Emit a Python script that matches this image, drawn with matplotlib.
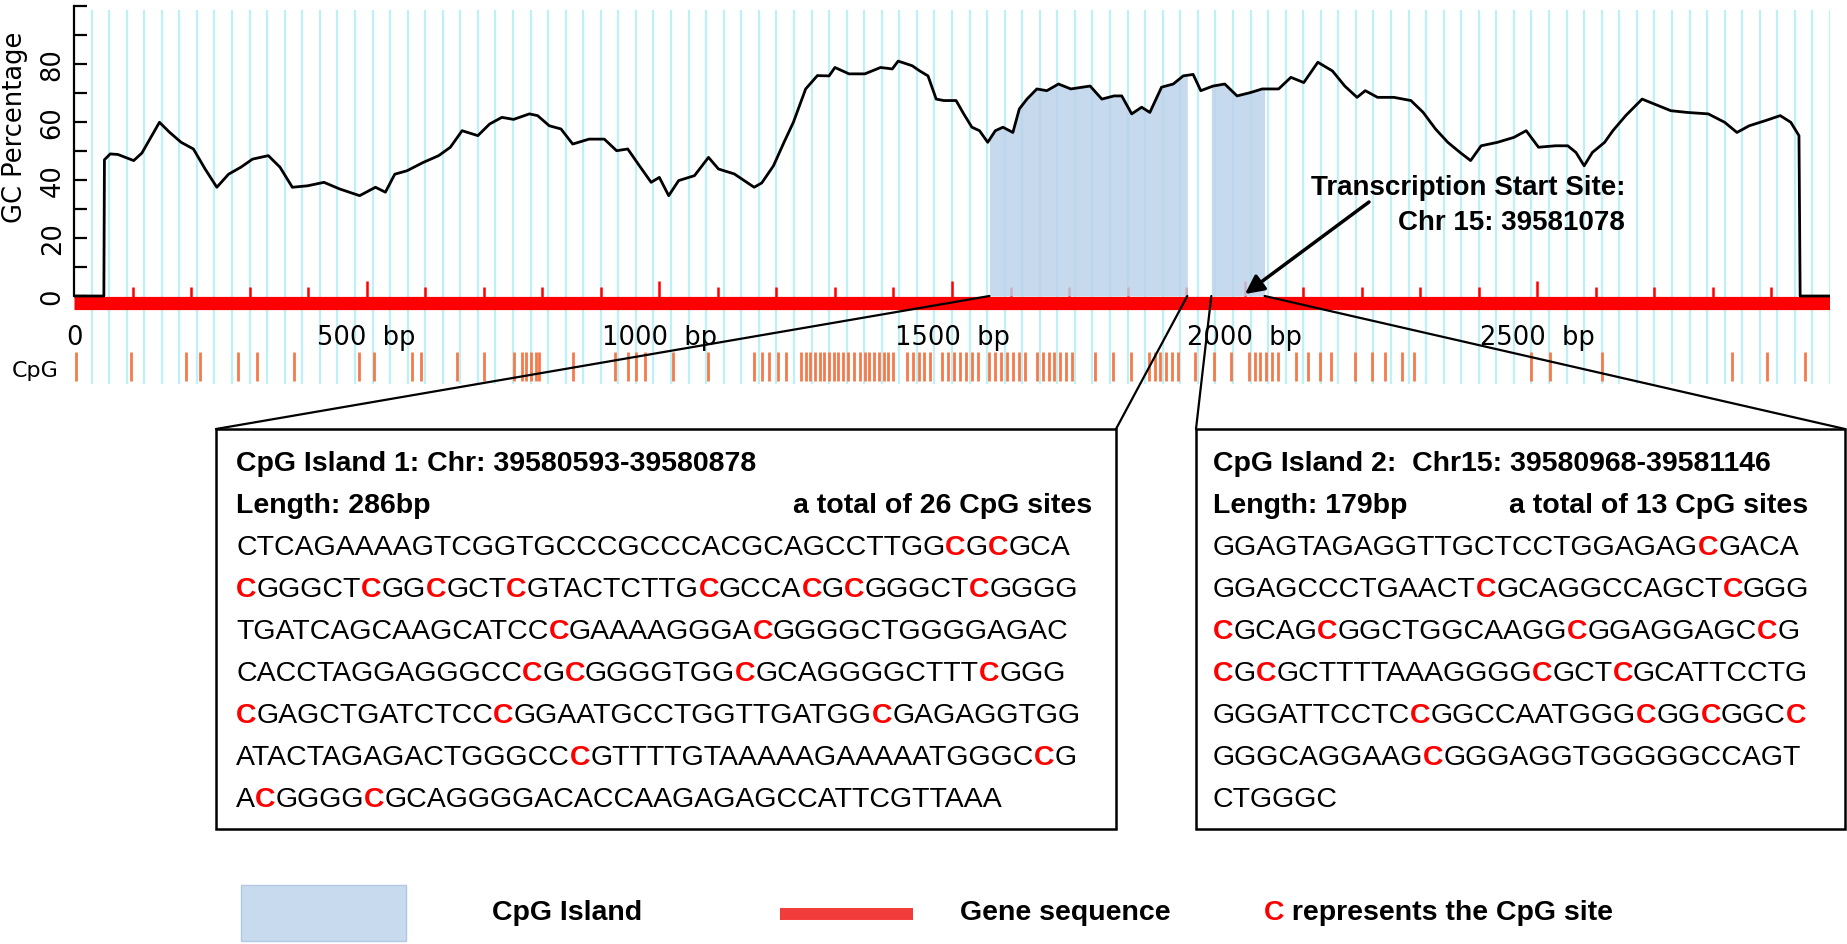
import numpy as np
import matplotlib
matplotlib.use('Agg')
import matplotlib.pyplot as plt
from matplotlib.patches import Rectangle, ConnectionPatch

W, H = 1847, 945

# ---------------- data ----------------
gc_pos = [0, 51, 52, 62, 75, 102, 116, 146, 163, 183, 204, 224, 244, 264, 285, 305, 332, 352,
          373, 399, 427, 454, 488, 515, 532, 548, 569, 596, 623, 643, 663, 690, 710, 731, 751,
          778, 792, 812, 832, 852, 880, 906, 927, 946, 966, 986, 1000, 1016, 1033, 1060, 1084,
          1101, 1128, 1162, 1175, 1195, 1213, 1229, 1250, 1270, 1290, 1300, 1324, 1351, 1378,
          1398, 1408, 1432, 1445, 1459, 1473, 1486, 1507, 1520, 1534, 1547, 1561, 1574, 1587,
          1604, 1615, 1628, 1645, 1662, 1682, 1703, 1736, 1756, 1777, 1790, 1807, 1824, 1838,
          1858, 1878, 1895, 1912, 1925, 1946, 1966, 1987, 2009, 2030, 2058, 2079, 2101, 2125,
          2150, 2171, 2192, 2206, 2227, 2255, 2284, 2305, 2326, 2347, 2368, 2386, 2404, 2432,
          2460, 2481, 2502, 2531, 2552, 2566, 2580, 2594, 2615, 2629, 2651, 2679, 2700, 2728,
          2756, 2792, 2820, 2841, 2862, 2890, 2915, 2933, 2947, 2949, 3000]
gc_val = [0, 0, 47, 49, 48.8, 46.7, 49.3, 59.9, 56.5, 53, 50.7, 43.8, 37.5, 42, 44.4, 47.2, 48.4,
          44.4, 37.5, 38, 39.2, 36.9, 34.6, 37.5, 35.8, 42, 43.2, 46, 48.4, 51.3, 57, 55.3, 59.3,
          61.6, 60.9, 62.8, 62.2, 58.7, 57.6, 52.4, 54.1, 54.1, 50.1, 50.7, 44.9, 39.2, 40.9,
          34.6, 39.8, 41.5, 47.8, 43.8, 42.1, 37.5, 39, 44.9, 53, 59.9, 71.4, 76, 75.9, 78.8,
          76.6, 76.6, 78.8, 78.3, 81, 79.4, 77.6, 75.9, 67.9, 67.4, 67.4, 62.8, 58.2, 57, 53, 57,
          58.2, 56.4, 64.5, 67.9, 71.4, 70.8, 73.1, 71.4, 72.4, 67.9, 69, 69, 62.8, 65.1, 63.3,
          72, 73.1, 75.9, 76.4, 70.8, 72.4, 73.1, 69, 70.1, 71.4, 71.4, 75.4, 73.6, 80.6, 77.6,
          72.4, 68.5, 70.8, 68.5, 68.5, 67.4, 63.3, 57.6, 53, 49.5, 46.7, 51.8, 53, 54.7, 57,
          51.3, 51.8, 51.8, 49.5, 44.9, 49.5, 53, 57, 62.2, 67.9, 66.2, 63.9, 63.3, 62.8, 59.9,
          56.4, 58.7, 60.5, 62.2, 59.9, 55.3, 0, 0]

island_start = [1564, 1943]
island_end = [1902, 2034]

cpg_sites = [3, 98, 191, 215, 281, 312, 376, 487, 513, 577, 593, 654, 700, 752, 765, 773, 781,
             789, 795, 853, 924, 946, 960, 976, 1024, 1083, 1161, 1175, 1188, 1202, 1216, 1242,
             1250, 1258, 1266, 1274, 1282, 1290, 1298, 1306, 1314, 1322, 1332, 1343, 1351, 1359,
             1367, 1375, 1383, 1391, 1399, 1423, 1433, 1443, 1453, 1463, 1483, 1493, 1504, 1514,
             1524, 1534, 1544, 1564, 1574, 1584, 1594, 1604, 1614, 1624, 1645, 1655, 1665, 1675,
             1685, 1695, 1705, 1745, 1775, 1806, 1836, 1846, 1856, 1866, 1876, 1886, 1916, 1947,
             1977, 2007, 2017, 2027, 2037, 2047, 2057, 2088, 2108, 2128, 2148, 2188, 2218, 2239,
             2269, 2289, 2490, 2521, 2611, 2833, 2893, 2958]

seq_length = 3000
xtick_pos = [0, 500, 1000, 1500, 2000, 2500]
xtick_labels = ['0', '500  bp', '1000  bp', '1500  bp', '2000  bp', '2500  bp']
ytick_pos = [0, 20, 40, 60, 80]
ytick_minor = [10, 30, 50, 70, 90, 100]

tss_lines = ['Transcription Start Site:', 'Chr 15: 39581078']

box1_title = 'CpG Island 1: Chr: 39580593-39580878'
box1_length = 'Length: 286bp'
box1_total = 'a total of 26 CpG sites'
# lowercase c marks a CpG site (drawn as a red C)
box1_seq = ['CTCAGAAAAGTCGGTGCCCGCCCACGCAGCCTTGGcGcGCA',
            'cGGGCTcGGcGCTcGTACTCTTGcGCCAcGcGGGCTcGGGG',
            'TGATCAGCAAGCATCCcGAAAAGGGAcGGGGCTGGGGAGAC',
            'CACCTAGGAGGGCCcGcGGGGTGGcGCAGGGGCTTTcGGG',
            'cGAGCTGATCTCCcGGAATGCCTGGTTGATGGcGAGAGGTGG',
            'ATACTAGAGACTGGGCCcGTTTTGTAAAAAGAAAAATGGGCcG',
            'AcGGGGcGCAGGGGACACCAAGAGAGCCATTCGTTAAA']

box2_title = 'CpG Island 2:  Chr15: 39580968-39581146'
box2_length = 'Length: 179bp'
box2_total = 'a total of 13 CpG sites'
box2_seq = ['GGAGTAGAGGTTGCTCCTGGAGAGcGACA',
            'GGAGCCCTGAACTcGCAGGCCAGCTcGGG',
            'cGCAGcGGCTGGCAAGGcGGAGGAGCcG',
            'cGcGCTTTTAAAGGGGcGCTcGCATTCCTG',
            'GGGATTCCTCcGGCCAATGGGcGGcGGCc',
            'GGGCAGGAAGcGGGAGGTGGGGGCCAGT',
            'CTGGGC']

legend_labels = ['CpG Island', 'Gene sequence', 'represents the CpG site']

# ---------------- style ----------------
GRID_C = '#bdf1f6'
ISLAND_C = '#bcd3ea'
CPG_C = '#f47a4b'
BAR_C = '#ff0000'
SANS = 'Liberation Sans'
AXF = 'DejaVu Sans'

fig = plt.figure(figsize=(W / 100, H / 100), dpi=100)
ax = fig.add_axes([74 / W, 1 - 385 / H, 1756 / W, 378 / H])
ax.set_xlim(0, seq_length)
ax.set_ylim(-30.34, 100)

# cyan grid
ax.vlines(np.arange(30, seq_length + 1, 30), -30.3, 98.5, colors=GRID_C, lw=1.6, zorder=0)

# gene bar and ruler
ax.plot([0, seq_length], [-2.4, -2.4], color=BAR_C, lw=9.5, solid_capstyle='butt', zorder=2)
for t in range(100, seq_length, 100):
    h = 5.2 if t % 500 == 0 else 3.1
    ax.vlines(t, -0.5, h, color=BAR_C, lw=1.8, zorder=2)

# CpG sites row
ax.vlines(cpg_sites, -29.3, -19.3, colors=CPG_C, lw=2.0, zorder=2)

# CpG island shading
for s, e in zip(island_start, island_end):
    xs = [s] + [p for p in gc_pos if s < p < e] + [e]
    ys = np.interp(xs, gc_pos, gc_val)
    ax.fill_between(xs, 0, ys, color=ISLAND_C, alpha=0.85, lw=0, zorder=3)

# GC curve
ax.plot(gc_pos, gc_val, color='black', lw=2.0, zorder=4)

for sp in ['top', 'right', 'bottom']:
    ax.spines[sp].set_visible(False)
ax.spines['left'].set_bounds(0, 100)
ax.spines['left'].set_linewidth(1.6)
ax.set_xticks([])
ax.set_yticks(ytick_pos)
ax.set_yticks(ytick_minor, minor=True)
ax.tick_params(axis='y', which='both', direction='in', length=9, width=1.6, pad=6,
               labelsize=18.5)
for lbl in ax.get_yticklabels():
    lbl.set_rotation(90)
    lbl.set_va('center')
    lbl.set_ha('right')
    lbl.set_family(AXF)
ax.patch.set_alpha(0)

for p, l in zip(xtick_pos, xtick_labels):
    ax.text(p, -14.1, l, ha='center', va='center', fontsize=18.5, family=AXF)

# ---------------- overlay (pixel coordinates) ----------------
ov = fig.add_axes([0, 0, 1, 1])
ov.set_xlim(0, W)
ov.set_ylim(H, 0)
ov.axis('off')

ov.text(15, 127, 'GC Percentage', rotation=90, ha='center', va='center', fontsize=18.5, family=AXF)
ov.text(12, 371, 'CpG', ha='left', va='center', fontsize=16, family=AXF)

# TSS annotation
ov.text(1625, 188, tss_lines[0], ha='right', va='center', fontsize=20, fontweight='bold', family=SANS)
ov.text(1625, 223, tss_lines[1], ha='right', va='center', fontsize=20, fontweight='bold', family=SANS)
ov.annotate('', xy=(1245, 295), xytext=(1369, 203),
            arrowprops=dict(arrowstyle='-|>', color='black', lw=2.5, mutation_scale=28,
                            shrinkA=0, shrinkB=0))

# boxes
boxes = [(216, 430, 900, 400), (1196, 430, 649, 400)]
for (bx, by, bw, bh) in boxes:
    ov.add_patch(Rectangle((bx, by), bw, bh, fill=False, ec='black', lw=1.8))

# connectors from islands to boxes
corners = [((island_start[0], 0), (216, 430)), ((island_end[0], 0), (1116, 430)),
           ((island_start[1], 0), (1196, 430)), ((island_end[1], 0), (1845, 430))]
for a, b in corners:
    con = ConnectionPatch(xyA=a, coordsA=ax.transData, xyB=b, coordsB=ov.transData,
                          color='black', lw=1.6)
    fig.add_artist(con)


def rich_line(x, y, line, size, bold_all=False):
    segs = []
    for ch in line:
        red = ch == 'c'
        c = 'C' if red else ch
        if segs and segs[-1][1] == red:
            segs[-1][0] += c
        else:
            segs.append([c, red])
    prev = None
    for txt, red in segs:
        kw = dict(fontsize=size, family=SANS, color=BAR_C if red else 'black',
                  fontweight='bold' if (red or bold_all) else 'normal')
        if prev is None:
            prev = ov.text(x, y, txt, ha='left', va='center', **kw)
        else:
            prev = ov.annotate(txt, xy=(1, 0), xycoords=prev, ha='left', va='bottom', **kw)
    return prev


BOLD = 20.5
SEQ = 20.5
row_y = [464, 506] + [548 + 42 * k for k in range(7)]

# box 1
ov.text(236, row_y[0], box1_title, ha='left', va='center', fontsize=BOLD, fontweight='bold', family=SANS)
ov.text(236, row_y[1], box1_length, ha='left', va='center', fontsize=BOLD, fontweight='bold', family=SANS)
ov.text(1092, row_y[1], box1_total, ha='right', va='center', fontsize=BOLD, fontweight='bold', family=SANS)
for k, line in enumerate(box1_seq):
    rich_line(236, row_y[2 + k], line, SEQ)

# box 2
ov.text(1213, row_y[0], box2_title, ha='left', va='center', fontsize=BOLD, fontweight='bold', family=SANS)
ov.text(1213, row_y[1], box2_length, ha='left', va='center', fontsize=BOLD, fontweight='bold', family=SANS)
ov.text(1808, row_y[1], box2_total, ha='right', va='center', fontsize=BOLD, fontweight='bold', family=SANS)
for k, line in enumerate(box2_seq):
    rich_line(1213, row_y[2 + k], line, SEQ)

# legend
ov.add_patch(Rectangle((241, 886), 165, 56, facecolor='#c8daee', edgecolor='#b3c9e2', lw=1))
ov.text(492, 913, legend_labels[0], ha='left', va='center', fontsize=BOLD, fontweight='bold', family=SANS)
ov.plot([780, 913], [915, 915], color='#f23b3b', lw=8.6, solid_capstyle='butt')
ov.text(960, 913, legend_labels[1], ha='left', va='center', fontsize=BOLD, fontweight='bold', family=SANS)
rich_line(1264, 913, 'c ' + legend_labels[2], BOLD, bold_all=True)

fig.savefig('out.png', dpi=100)
